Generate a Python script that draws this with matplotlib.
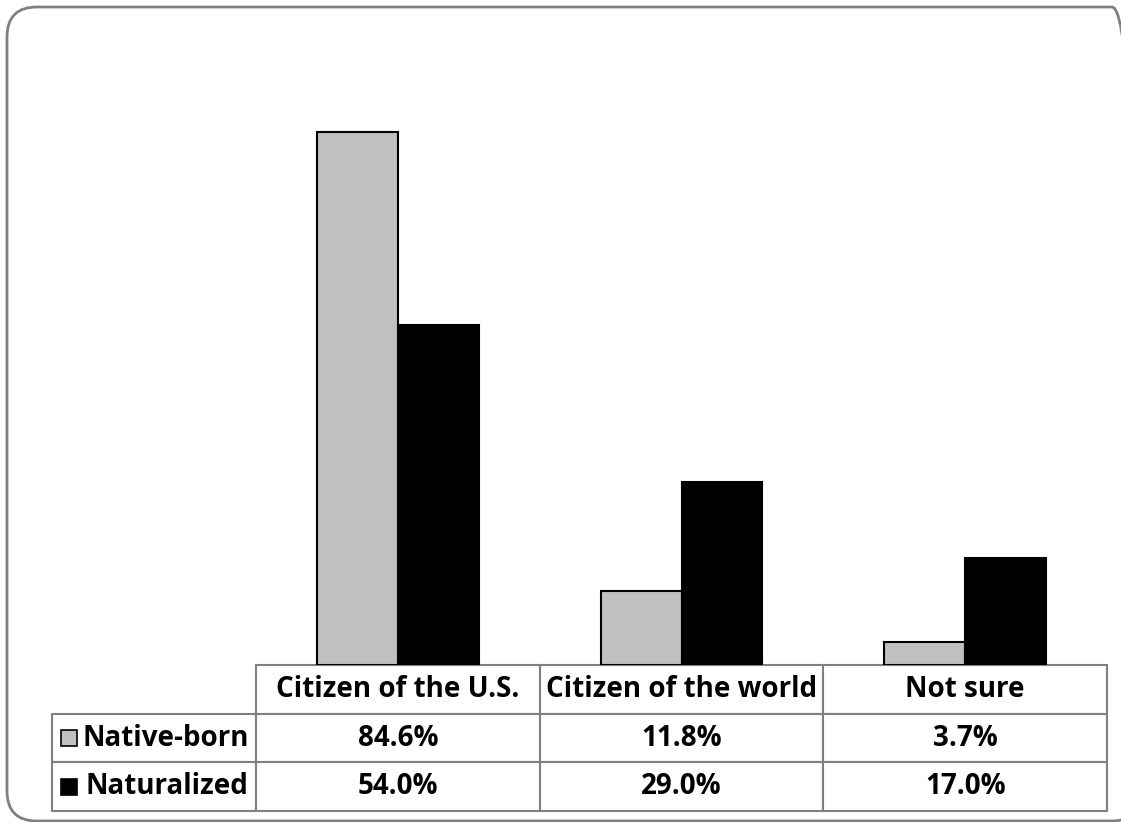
import matplotlib
matplotlib.use("Agg")
import matplotlib.pyplot as plt
from matplotlib.patches import FancyBboxPatch, Rectangle
import numpy as np

categories = ["Citizen of the U.S.", "Citizen of the world", "Not sure"]
series = ["Native-born", "Naturalized"]
native_born = [84.6, 11.8, 3.7]
naturalized = [54.0, 29.0, 17.0]
colors = ["#C0C0C0", "#000000"]

plt.rcParams['font.family'] = ['Open Sans', 'DejaVu Sans']
plt.rcParams['font.weight'] = 'bold'

W, H = 1121, 822
fig = plt.figure(figsize=(W / 100, H / 100), dpi=100)

# rounded frame around whole chart (in inches, so corners stay round)
frame = FancyBboxPatch((0.07, (H - 821) / 100), (1142 - 7) / 100, (821 - 7) / 100,
                       boxstyle="round,pad=0,rounding_size=0.3",
                       transform=fig.dpi_scale_trans, facecolor="none",
                       edgecolor="#808080", linewidth=2, zorder=-1)
fig.patches.append(frame)

ax_l, ax_r, ax_top, ax_bot = 256, 1107, 98, 665
ax = fig.add_axes([ax_l / W, 1 - ax_bot / H, (ax_r - ax_l) / W, (ax_bot - ax_top) / H])
ax.set_facecolor("none")

x = np.arange(len(categories))
bw = 0.285
ax.bar(x - bw / 2, native_born, bw, color=colors[0], edgecolor="black", linewidth=1.5)
ax.bar(x + bw / 2, naturalized, bw, color=colors[1], edgecolor="black", linewidth=1.5)
ax.set_xlim(-0.5, 2.5)
ax.set_ylim(0, 90)
ax.axis("off")

# data table (first column holds the series names)
cell_text = [[series[0]] + [f"{v:.1f}%" for v in native_born],
             [series[1]] + [f"{v:.1f}%" for v in naturalized]]
aw, ah = ax_r - ax_l, ax_bot - ax_top
tl, tb = 52, 811
total_w = ax_r - tl
col_w = (aw / 3) / total_w
tbl = ax.table(cellText=cell_text, colLabels=[""] + categories,
               cellLoc="center",
               colWidths=[(ax_l - tl) / total_w] + [col_w] * 3,
               bbox=[(tl - ax_l) / aw, -(tb - ax_bot) / ah, total_w / aw, (tb - ax_bot) / ah])
tbl.auto_set_font_size(False)
for (r, c), cell in tbl.get_celld().items():
    cell.set_edgecolor("#808080")
    cell.set_linewidth(1.5)
    cell.get_text().set_fontsize(20)
    cell.get_text().set_fontweight("bold")
    if c == 0:
        cell.PAD = 0.035
        cell.get_text().set_horizontalalignment("right")
        cell._loc = "right"
tbl[0, 0].set_visible(False)

# legend swatches in row label cells
row_h = (tb - ax_bot) / 3
for i, col in enumerate(colors):
    yc = ax_bot + row_h * (i + 1.5)
    sw = Rectangle((61 / W, 1 - (yc + 8) / H), 16 / W, 16 / H,
                   transform=fig.transFigure, facecolor=col,
                   edgecolor="black", linewidth=1.2)
    fig.patches.append(sw)

fig.savefig("out.png", dpi=100)
